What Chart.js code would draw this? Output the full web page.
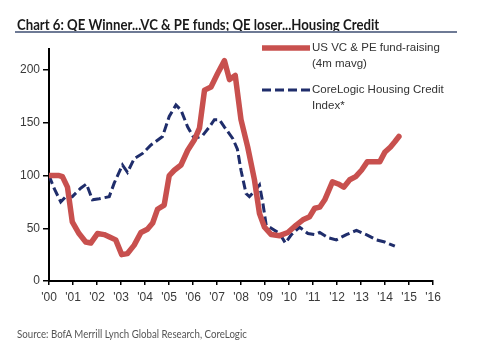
<!DOCTYPE html>
<html>
<head>
<meta charset="utf-8">
<script src="https://cdn.jsdelivr.net/npm/chart.js@4.4.1/dist/chart.umd.min.js"></script>
<style>
  html, body { margin: 0; padding: 0; background: #fff; }
  #wrap { position: relative; width: 488px; height: 343px; overflow: hidden; }
  #myChart { position: absolute; left: 0; top: 0; }
  .txt { position: absolute; white-space: nowrap; transform-origin: 0 0; font-family: Lato, "Open Sans", sans-serif; }
  #title { left: 17px; top: 15px; font-size: 15px; font-weight: bold; color: #1a1a1a; }
  #rule { position: absolute; left: 15px; top: 31px; width: 442px; height: 2px; background: #6e7a95; }
  #source { left: 17px; top: 327px; font-size: 11px; color: #555; }
</style>
</head>
<body>
<div id="wrap">
  <canvas id="myChart" width="488" height="343"></canvas>
  <div id="title" class="txt">Chart 6: QE Winner...VC &amp; PE funds; QE loser...Housing Credit</div>
  <div id="rule"></div>
  <div id="source" class="txt">Source: BofA Merrill Lynch Global Research, CoreLogic</div>
</div>
<script>
// Define the data
var vcLabel = ['US VC & PE fund-raising', '(4m mavg)'];
var vcYears = [2000, 2000.42, 2000.56, 2000.77, 2000.97, 2001.25, 2001.53, 2001.74, 2002.02, 2002.3,
  2002.5, 2002.78, 2003.03, 2003.27, 2003.55, 2003.83, 2004.1, 2004.32, 2004.52, 2004.8,
  2005.01, 2005.22, 2005.5, 2005.78, 2006.06, 2006.27, 2006.48, 2006.75, 2007.03, 2007.31,
  2007.52, 2007.76, 2008.0, 2008.28, 2008.56, 2008.77, 2008.98, 2009.26, 2009.61, 2009.95,
  2010.3, 2010.58, 2010.86, 2011.07, 2011.28, 2011.49, 2011.81, 2012.05, 2012.28, 2012.53,
  2012.78, 2013.02, 2013.26, 2013.5, 2013.78, 2013.99, 2014.23, 2014.41, 2014.58];
var vcValues = [100, 100, 99, 89, 56, 45, 37, 36, 45, 44,
  42, 39, 25, 26, 34, 46, 49, 55, 68, 72,
  100, 105, 110, 124, 134, 145, 181, 184, 197, 209,
  191, 195, 153, 127, 96, 64, 51, 44, 43, 46,
  53, 58, 61, 69, 70, 77, 94, 92, 89, 96,
  99, 105, 113, 113, 113, 122, 127, 132, 137];

var hcLabel = ['CoreLogic Housing Credit', 'Index*'];
var hcYears = [2000, 2000.21, 2000.49, 2000.7, 2000.97, 2001.32, 2001.56, 2001.81, 2002.09, 2002.51,
  2002.72, 2003.06, 2003.27, 2003.55, 2003.9, 2004.25, 2004.73, 2005.01, 2005.29, 2005.5,
  2005.78, 2006.06, 2006.4, 2006.68, 2006.89, 2007.1, 2007.31, 2007.66, 2007.85, 2008.0,
  2008.21, 2008.35, 2008.56, 2008.77, 2008.91, 2009.05, 2009.33, 2009.61, 2009.85, 2010.1,
  2010.44, 2010.79, 2011.07, 2011.28, 2011.63, 2011.97, 2012.39, 2012.81, 2013.22, 2013.64,
  2013.99, 2014.41];
var hcValues = [100, 88, 75, 80, 80, 88, 92, 77, 78, 80,
  93, 110, 103, 116, 121, 129, 137, 156, 167, 162,
  146, 135, 138, 146, 153, 153, 146, 135, 125, 105,
  83, 80, 85, 91, 74, 53, 49, 45, 36, 44,
  51, 45, 44, 46, 41, 39, 44, 48, 44, 39,
  37, 33];

var yTicks = [0, 50, 100, 150, 200];
// End Defining data

function toPoints(xs, ys) {
  return xs.map(function(x, i) { return {x: x, y: ys[i]}; });
}

// squeeze title/source to the width they take in the picture
function fitWidth(id, w) {
  var el = document.getElementById(id);
  el.style.transform = 'scaleX(' + (w / el.offsetWidth) + ')';
}
fitWidth('title', 362);
fitWidth('source', 230);

var legendPlugin = {
  id: 'sideLegend',
  afterDraw: function(chart) {
    var c = chart.ctx;
    var rows = [{y: 48}, {y: 90}];
    c.save();
    chart.data.datasets.forEach(function(ds, i) {
      var y = rows[i].y;
      c.beginPath();
      c.strokeStyle = ds.borderColor;
      c.lineWidth = ds.borderWidth;
      c.setLineDash(ds.borderDash || []);
      c.moveTo(262, y);
      c.lineTo(310, y);
      c.stroke();
      c.setLineDash([]);
      c.fillStyle = '#333';
      c.font = '11.5px "Liberation Sans", Arial, sans-serif';
      c.textBaseline = 'middle';
      ds.label.forEach(function(line, j) {
        c.fillText(line, 312, y + j * 16);
      });
    });
    c.restore();
  }
};

var ctx = document.getElementById('myChart').getContext('2d');
Chart.defaults.font.family = '"Liberation Sans", Arial, sans-serif';
Chart.defaults.color = '#3a3a3a';

var myChart = new Chart(ctx, {
  type: 'line',
  data: {
    datasets: [{
      label: vcLabel,
      data: toPoints(vcYears, vcValues),
      borderColor: '#c8504e',
      borderWidth: 5.5,
      pointRadius: 0,
      tension: 0,
      borderJoinStyle: 'round',
      borderCapStyle: 'round'
    }, {
      label: hcLabel,
      data: toPoints(hcYears, hcValues),
      borderColor: '#1f2d6b',
      borderWidth: 3,
      borderDash: [9, 4],
      pointRadius: 0,
      tension: 0
    }]
  },
  options: {
    responsive: false,
    animation: false,
    layout: { padding: { top: 49, right: 55, left: 0, bottom: 0 } },
    plugins: { legend: { display: false }, tooltip: { enabled: false } },
    scales: {
      x: {
        type: 'linear',
        min: 2000,
        max: 2016,
        afterFit: function(s) { s.height = 62; },
        afterBuildTicks: function(s) {
          s.ticks = [];
          for (var yr = 2000; yr <= 2016; yr++) s.ticks.push({value: yr});
        },
        ticks: {
          font: { size: 12 },
          padding: 5,
          maxRotation: 0,
          autoSkip: false,
          callback: function(v) { return "'" + String(v % 100).padStart(2, '0'); }
        },
        grid: { drawOnChartArea: false, drawTicks: true, tickLength: 4, color: '#000', lineWidth: 1.5 },
        border: { display: true, color: '#000', width: 2 }
      },
      y: {
        min: 0,
        max: 220,
        afterFit: function(s) { s.width = 49; },
        afterBuildTicks: function(s) {
          s.ticks = yTicks.map(function(v) { return {value: v}; });
        },
        ticks: { font: { size: 12 }, padding: 3 },
        grid: { drawOnChartArea: false, drawTicks: true, tickLength: 6, color: '#000', lineWidth: 1.5 },
        border: { display: true, color: '#000', width: 2 }
      }
    }
  },
  plugins: [legendPlugin]
});
</script>
</body>
</html>
